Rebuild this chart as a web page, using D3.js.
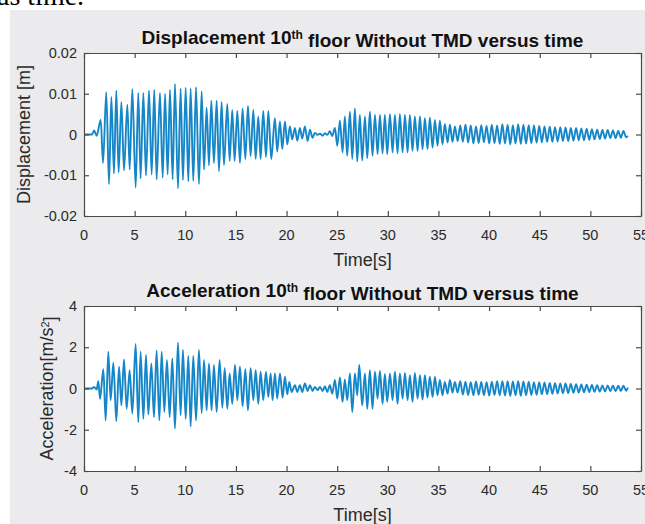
<!DOCTYPE html>
<html><head><meta charset="utf-8">
<script src="https://cdn.jsdelivr.net/npm/d3@7"></script>
<style>
html,body{margin:0;padding:0;background:#fff;overflow:hidden;}
text{font-family:"Liberation Sans",Arial,Helvetica,sans-serif;}
</style></head>
<body>
<script>
// ---------------- DATA ----------------
const timeTicks = [0, 5, 10, 15, 20, 25, 30, 35, 40, 45, 50, 55];
const dispTicks = [-0.02, -0.01, 0, 0.01, 0.02];
const dispTickLabels = ["-0.02", "-0.01", "0", "0.01", "0.02"];
const accTicks = [-4, -2, 0, 2, 4];
const accTickLabels = ["-4", "-2", "0", "2", "4"];

// extrema times after 37 s (shared by both records)
const tailTime = [37.15, 37.41, 37.67, 37.93, 38.19, 38.45, 38.71, 38.97, 39.23, 39.49,
  39.75, 40.01, 40.27, 40.53, 40.79, 41.05, 41.31, 41.57, 41.83, 42.09,
  42.35, 42.61, 42.87, 43.13, 43.39, 43.65, 43.91, 44.17, 44.43, 44.69,
  44.95, 45.21, 45.47, 45.73, 45.99, 46.25, 46.51, 46.77, 47.03, 47.29,
  47.55, 47.81, 48.07, 48.33, 48.59, 48.85, 49.11, 49.37, 49.63, 49.89,
  50.15, 50.41, 50.67, 50.93, 51.19, 51.45, 51.71, 51.97, 52.23, 52.49,
  52.75, 53.01, 53.27, 53.53, 53.70];

// displacement record: times [s] and values [m] of the turning points
const dispTime = [0, 0.8, 0.99, 1.25, 1.65, 1.88, 2.20, 2.47, 2.70, 2.96,
  3.19, 3.42, 3.69, 3.95, 4.28, 4.51, 4.77, 5.10, 5.36, 5.59,
  5.86, 6.12, 6.42, 6.68, 6.94, 7.17, 7.50, 7.77, 8.00, 8.26,
  8.49, 8.75, 8.98, 9.28, 9.54, 9.77, 10.04, 10.30, 10.53, 10.79,
  11.06, 11.35, 11.62, 11.85, 12.11, 12.34, 12.57, 12.83, 13.10, 13.33,
  13.59, 13.82, 14.15, 14.38, 14.64, 14.87, 15.14, 15.40, 15.66, 15.93,
  16.19, 16.45, 16.72, 16.95, 17.21, 17.44, 17.70, 17.97, 18.20, 18.49,
  18.85, 19.08, 19.35, 19.58, 19.84, 20.07, 20.33, 20.56, 20.83, 21.06,
  21.32, 21.55, 21.81, 22.08, 22.31, 22.57, 22.80, 23.07, 23.30, 23.56,
  23.79, 24.02, 24.28, 24.51, 24.78, 25.01, 25.27, 25.53, 25.76, 25.99,
  26.26, 26.49, 26.75, 26.98, 27.24, 27.47, 27.74, 27.97, 28.23, 28.49,
  28.73, 28.99, 29.22, 29.48, 29.71, 29.94, 30.21, 30.47, 30.70, 30.96,
  31.19, 31.46, 31.69, 31.95, 32.18, 32.44, 32.67, 32.94, 33.17, 33.43,
  33.66, 33.92, 34.15, 34.42, 34.65, 34.91, 35.14, 35.40, 35.63, 35.90,
  36.13, 36.39, 36.62, 36.89].concat(tailTime);
const dispValue = [0, 0, 0.0010, -0.0003, 0.0036, -0.0070, 0.0104, -0.0122, 0.0092, -0.0096,
  0.0108, -0.0093, 0.0080, -0.0088, 0.0073, -0.0086, 0.0112, -0.0130, 0.0102, -0.0108,
  0.0102, -0.0101, 0.0108, -0.0098, 0.0110, -0.0110, 0.0102, -0.0106, 0.0100, -0.0098,
  0.0110, -0.0110, 0.0124, -0.0132, 0.0113, -0.0112, 0.0115, -0.0115, 0.0113, -0.0114,
  0.0116, -0.0122, 0.0106, -0.0086, 0.0066, -0.0076, 0.0083, -0.0070, 0.0083, -0.0090,
  0.0080, -0.0075, 0.0075, -0.0065, 0.0060, -0.0065, 0.0058, -0.0070, 0.0064, -0.0060,
  0.0070, -0.0053, 0.0060, -0.0060, 0.0044, -0.0060, 0.0058, -0.0055, 0.0058, -0.0060,
  0.0040, -0.0042, 0.0032, -0.0036, 0.0032, -0.0024, 0.0020, -0.0012, 0.0016, -0.0015,
  0.0016, -0.0010, 0.0020, -0.0016, 0.0012, -0.0008, 0.0004, -0.0001, 0.0002, -0.0003,
  0.0003, -0.0001, 0.0008, -0.0004, 0.0016, -0.0028, 0.0034, -0.0044, 0.0044, -0.0052,
  0.0056, -0.0060, 0.0064, -0.0066, 0.0048, -0.0064, 0.0044, -0.0058, 0.0056, -0.0052,
  0.0048, -0.0048, 0.0048, -0.0046, 0.0048, -0.0048, 0.0050, -0.0044, 0.0048, -0.0046,
  0.0050, -0.0044, 0.0048, -0.0044, 0.0048, -0.0040, 0.0044, -0.0040, 0.0044, -0.0036,
  0.0040, -0.0036, 0.0041, -0.0032, 0.0036, -0.0028, 0.0034, -0.0024, 0.0026, -0.0020,
  0.0024, -0.0018, 0.0020, -0.0016,
  0.0022, -0.0018, 0.0024, -0.0020, 0.0022, -0.0022, 0.0020, -0.0021, 0.0023, -0.0019,
  0.0021, -0.0022, 0.0024, -0.0021, 0.0022, -0.0023, 0.0025, -0.0022, 0.0024, -0.0024,
  0.0023, -0.0022, 0.0025, -0.0023, 0.0024, -0.0022, 0.0023, -0.0021, 0.0022, -0.0020,
  0.0021, -0.0019, 0.0020, -0.0018, 0.0019, -0.0018, 0.0018, -0.0017, 0.0018, -0.0016,
  0.0017, -0.0016, 0.0016, -0.0015, 0.0016, -0.0014, 0.0015, -0.0014, 0.0014, -0.0013,
  0.0013, -0.0012, 0.0012, -0.0011, 0.0011, -0.0010, 0.0011, -0.0009, 0.0010, -0.0009,
  0.0009, -0.0008, 0.0009, -0.0007, -0.0003];

// acceleration record: times [s] and values [m/s^2] of the turning points
const accTime = [0, 0.8, 0.99, 1.25, 1.41, 1.58, 1.91, 2.14, 2.40, 2.63,
  2.90, 3.19, 3.46, 3.69, 3.95, 4.21, 4.51, 4.77, 5.10, 5.36,
  5.59, 5.86, 6.12, 6.35, 6.65, 6.91, 7.17, 7.44, 7.67, 7.93,
  8.19, 8.46, 8.72, 8.98, 9.28, 9.54, 9.77, 10.04, 10.30, 10.53,
  10.79, 11.06, 11.35, 11.62, 11.85, 12.11, 12.34, 12.60, 12.83, 13.10,
  13.39, 13.66, 13.89, 14.15, 14.38, 14.64, 14.91, 15.14, 15.40, 15.66,
  15.93, 16.19, 16.45, 16.72, 16.95, 17.21, 17.44, 17.70, 17.97, 18.20,
  18.43, 18.62, 18.85, 19.08, 19.35, 19.61, 19.84, 20.07, 20.27, 20.50,
  20.83, 21.06, 21.32, 21.55, 21.81, 22.08, 22.31, 22.57, 22.80, 23.07,
  23.30, 23.56, 23.79, 24.02, 24.28, 24.51, 24.78, 25.01, 25.27, 25.53,
  25.76, 25.99, 26.26, 26.49, 26.75, 26.98, 27.18, 27.47, 27.74, 27.97,
  28.23, 28.49, 28.73, 28.99, 29.22, 29.48, 29.71, 29.94, 30.21, 30.47,
  30.70, 30.96, 31.19, 31.46, 31.69, 31.95, 32.18, 32.44, 32.67, 32.94,
  33.17, 33.43, 33.66, 33.92, 34.15, 34.42, 34.65, 34.91, 35.14, 35.40,
  35.63, 35.90, 36.13, 36.39, 36.62, 36.89].concat(tailTime);
const accValue = [0, 0, 0.08, -0.05, 0.35, -0.50, 0.93, -1.55, 1.79, -0.57,
  1.25, -1.58, 1.06, -0.82, 1.41, -0.98, 0.89, -1.22, 2.16, -1.63,
  1.79, -1.47, 1.63, -1.26, 1.22, -1.39, 1.84, -1.55, 1.79, -1.14,
  1.38, -1.39, 1.46, -1.95, 2.23, -1.30, 1.87, -1.47, 1.58, -1.84,
  1.58, -1.55, 1.87, -1.19, 1.38, -1.06, 1.22, -1.06, 1.14, -1.14,
  1.38, -0.93, 0.98, -0.98, 0.73, -0.74, 1.14, -0.57, 1.06, -0.86,
  0.93, -1.06, 0.98, -0.57, 0.89, -0.74, 0.81, -0.57, 0.81, -0.41,
  0.73, -0.57, 0.73, -0.49, 0.73, -0.44, 0.57, -0.28, 0.32, -0.17,
  0.16, -0.17, 0.16, -0.17, 0.24, -0.12, 0.16, -0.12, 0.08, -0.08,
  0.08, -0.12, 0.11, -0.17, 0.16, -0.25, 0.41, -0.49, 0.54, -0.65,
  0.44, -0.57, 0.73, -1.14, 0.73, -0.33, 1.14, -0.82, 0.73, -0.98,
  0.89, -0.98, 0.81, -0.49, 0.85, -0.74, 0.70, -0.65, 0.73, -0.57,
  0.81, -0.74, 0.73, -0.49, 0.76, -0.57, 0.65, -0.65, 0.76, -0.49,
  0.65, -0.54, 0.65, -0.44, 0.57, -0.41, 0.57, -0.33, 0.41, -0.33,
  0.32, -0.25, 0.41, -0.20, 0.32, -0.20,
  0.35, -0.30, 0.33, -0.32, 0.30, -0.33, 0.34, -0.30, 0.32, -0.33,
  0.30, -0.34, 0.33, -0.31, 0.35, -0.33, 0.36, -0.34, 0.35, -0.36,
  0.34, -0.33, 0.36, -0.35, 0.34, -0.33, 0.33, -0.32, 0.31, -0.30,
  0.30, -0.28, 0.29, -0.27, 0.27, -0.26, 0.26, -0.24, 0.25, -0.23,
  0.24, -0.22, 0.22, -0.21, 0.21, -0.20, 0.20, -0.19, 0.19, -0.17,
  0.17, -0.16, 0.16, -0.15, 0.15, -0.14, 0.15, -0.13, 0.14, -0.13,
  0.13, -0.12, 0.13, -0.11, 0.05];

// ---------------- DRAW ----------------
const W = 645, H = 524;
const svg = d3.select("body").append("svg").attr("width", W).attr("height", H);
svg.append("rect").attr("width", W).attr("height", H).attr("fill", "#ffffff");
// page text clipped at top
svg.append("text").attr("x", -3).attr("y", 5)
  .style("font-family", "'Liberation Serif','Times New Roman',serif")
  .style("font-size", "28px").attr("fill", "#000").text("as time.");
// figure background
svg.append("rect").attr("x", 10).attr("y", 10).attr("width", W - 10).attr("height", H - 10)
  .attr("fill", "#ebebed");

const LINE = "#1587c8";
const AX = "#4a4a4a";
const TXT = "#2a2a2a";

function panel(cfg) {
  const x = d3.scaleLinear().domain([0, 55]).range([84, 641]);
  const y = d3.scaleLinear().domain(cfg.domain).range([cfg.bottom, cfg.top]);
  const g = svg.append("g");
  g.append("rect").attr("x", x(0)).attr("y", y.range()[1])
    .attr("width", x(55) - x(0)).attr("height", y.range()[0] - y.range()[1])
    .attr("fill", "#fff");

  const clipId = "clip" + cfg.id;
  svg.append("clipPath").attr("id", clipId).append("rect")
    .attr("x", x(0)).attr("y", cfg.top).attr("width", x(55) - x(0)).attr("height", cfg.bottom - cfg.top);

  const pts = d3.zip(cfg.t, cfg.v);
  const line = d3.line().x(d => x(d[0])).y(d => y(d[1])).curve(d3.curveMonotoneX);
  g.append("path").attr("d", line(pts)).attr("fill", "none")
    .attr("stroke", LINE).attr("stroke-width", 1.9).attr("stroke-linejoin", "round")
    .attr("clip-path", "url(#" + clipId + ")");

  // axes with inward ticks on all four sides
  const tk = 5;
  const axB = d3.axisBottom(x).tickValues(timeTicks).tickSizeInner(-tk).tickSizeOuter(0).tickFormat("");
  const axT = d3.axisTop(x).tickValues(timeTicks).tickSizeInner(-tk).tickSizeOuter(0).tickFormat("");
  const axL = d3.axisLeft(y).tickValues(cfg.ticks).tickSizeInner(-tk).tickSizeOuter(0).tickFormat("");
  const axR = d3.axisRight(y).tickValues(cfg.ticks).tickSizeInner(-tk).tickSizeOuter(0).tickFormat("");
  [[axB, `translate(0,${cfg.bottom})`], [axT, `translate(0,${cfg.top})`],
   [axL, `translate(${x(0)},0)`], [axR, `translate(${x(55)},0)`]].forEach(([a, tr]) => {
    const ag = g.append("g").attr("transform", tr).call(a);
    ag.selectAll("path,line").attr("stroke", AX).attr("stroke-width", 1.2);
  });

  // tick labels
  g.selectAll(null).data(timeTicks).enter().append("text")
    .attr("x", d => x(d)).attr("y", cfg.bottom + 19).attr("dy", "0.35em")
    .attr("text-anchor", "middle").style("font-size", "14.5px").attr("fill", TXT)
    .text(d => d);
  g.selectAll(null).data(cfg.ticks).enter().append("text")
    .attr("x", 77).attr("y", d => y(d)).attr("dy", "0.35em")
    .attr("text-anchor", "end").style("font-size", "14.5px").attr("fill", TXT)
    .text((d, i) => cfg.tickLabels[i]);

  // title
  const tt = g.append("text").attr("x", (x(0) + x(55)) / 2).attr("y", cfg.top - 9)
    .attr("text-anchor", "middle").style("font-size", "19px").style("font-weight", "bold")
    .attr("fill", "#111");
  tt.append("tspan").text(cfg.title1);
  tt.append("tspan").attr("dy", "-0.45em").style("font-size", "12px").text("th");
  tt.append("tspan").attr("dy", "0.45em").text(cfg.title2);

  // x label
  g.append("text").attr("x", (x(0) + x(55)) / 2).attr("y", cfg.bottom + 44).attr("dy", "0.35em")
    .attr("text-anchor", "middle").style("font-size", "18px").attr("fill", TXT).text("Time[s]");
  // y label
  const yl = g.append("text")
    .attr("transform", `translate(${cfg.ylabelX},${(cfg.top + cfg.bottom) / 2}) rotate(-90)`)
    .attr("dy", "0.35em").attr("text-anchor", "middle").style("font-size", "18px").attr("fill", TXT);
  yl.append("tspan").text(cfg.ylabel);
  if (cfg.ysup) {
    yl.append("tspan").attr("dy", "-0.4em").style("font-size", "11px").text(cfg.ysup);
    yl.append("tspan").attr("dy", "0.4em").text("]");
  }
}

panel({id: 1, top: 53, bottom: 216, domain: [-0.02, 0.02], ticks: dispTicks, tickLabels: dispTickLabels,
  t: dispTime, v: dispValue, title1: "Displacement 10", title2: " floor Without TMD versus time",
  ylabel: "Displacement [m]", ylabelX: 24});
panel({id: 2, top: 306, bottom: 471, domain: [-4, 4], ticks: accTicks, tickLabels: accTickLabels,
  t: accTime, v: accValue, title1: "Acceleration 10", title2: " floor Without TMD versus time",
  ylabel: "Acceleration[m/s", ysup: "2", ylabelX: 47});
</script>
</body></html>
